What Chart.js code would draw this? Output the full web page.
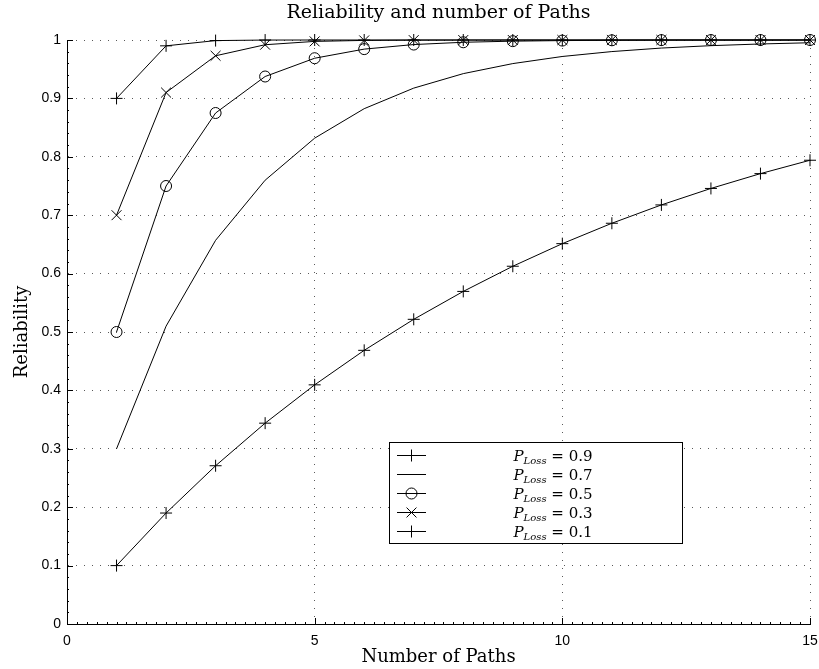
<!DOCTYPE html>
<html>
<head>
<meta charset="utf-8">
<script src="https://cdn.jsdelivr.net/npm/chart.js@4"></script>
<style>
  body { margin: 0; background: #fff; }
  canvas { display: block; }
</style>
</head>
<body>
<canvas id="grafico" width="819" height="669"></canvas>
<script>
// number of paths on the x axis
const paths = [1, 2, 3, 4, 5, 6, 7, 8, 9, 10, 11, 12, 13, 14, 15];
const lossValues = ['0.9', '0.7', '0.5', '0.3', '0.1'];

// reliability per loss probability
const rel09 = [0.1, 0.19, 0.271, 0.3439, 0.4095, 0.4686, 0.5217, 0.5695, 0.6126, 0.6513, 0.6862, 0.7176, 0.7458, 0.7712, 0.7941];
const rel07 = [0.3, 0.51, 0.657, 0.7599, 0.8319, 0.8824, 0.9176, 0.9424, 0.9596, 0.9718, 0.9802, 0.9862, 0.9903, 0.9932, 0.9953];
const rel05 = [0.5, 0.75, 0.875, 0.9375, 0.9688, 0.9844, 0.9922, 0.9961, 0.998, 0.999, 0.9995, 0.9998, 0.9999, 0.9999, 1.0];
const rel03 = [0.7, 0.91, 0.973, 0.9919, 0.9976, 0.9993, 0.9998, 0.9999, 1.0, 1.0, 1.0, 1.0, 1.0, 1.0, 1.0];
const rel01 = [0.9, 0.99, 0.999, 0.9999, 1.0, 1.0, 1.0, 1.0, 1.0, 1.0, 1.0, 1.0, 1.0, 1.0, 1.0];

const xTicks = [0, 5, 10, 15];
const yTicks = [0, 0.1, 0.2, 0.3, 0.4, 0.5, 0.6, 0.7, 0.8, 0.9, 1];
const yTickLabels = ['0', '0.1', '0.2', '0.3', '0.4', '0.5', '0.6', '0.7', '0.8', '0.9', '1'];

const series = [rel09, rel07, rel05, rel03, rel01];
const markers = ['cross', null, 'circle', 'crossRot', 'cross'];
const markerSize = { cross: 6, circle: 5.5, crossRot: 7 };

const serif = "'DejaVu Serif', serif";
const sans = "'Liberation Sans', Arial, sans-serif";

// matlab style ticks pointing inside the axes
const axisTicks = {
  id: 'axisTicks',
  beforeDatasetsDraw(chart) {
    const { ctx, chartArea: a, scales: { x, y } } = chart;
    ctx.save();
    ctx.strokeStyle = '#000';
    ctx.lineWidth = 1;
    ctx.beginPath();
    for (let i = 0; i <= 75; i++) {
      const px = Math.round(x.getPixelForValue(i * 0.2)) + 0.5;
      const len = i % 25 === 0 ? 6 : 2;
      ctx.moveTo(px, a.bottom);
      ctx.lineTo(px, a.bottom - len);
    }
    for (let i = 0; i <= 50; i++) {
      const py = Math.round(y.getPixelForValue(i * 0.02)) + 0.5;
      const len = i % 5 === 0 ? 6 : 2;
      ctx.moveTo(a.left, py);
      ctx.lineTo(a.left + len, py);
    }
    ctx.stroke();
    ctx.restore();
  }
};

// legend box with subscript labels
const lossLegend = {
  id: 'lossLegend',
  afterDraw(chart) {
    const ctx = chart.ctx;
    const box = { left: 389.5, top: 442.5, right: 682.5, bottom: 543.5 };
    const rowH = 19;
    ctx.save();
    ctx.fillStyle = '#fff';
    ctx.fillRect(box.left, box.top, box.right - box.left, box.bottom - box.top);
    ctx.strokeStyle = '#000';
    ctx.lineWidth = 1;
    ctx.strokeRect(box.left, box.top, box.right - box.left, box.bottom - box.top);
    chart.data.datasets.forEach((ds, i) => {
      const cy = Math.round(box.top + 12 + i * rowH) + 0.5;
      ctx.beginPath();
      ctx.moveTo(397, cy);
      ctx.lineTo(426, cy);
      ctx.stroke();
      if (markers[i]) {
        ctx.fillStyle = 'rgba(0,0,0,0)';
        Chart.helpers.drawPoint(ctx, { pointStyle: markers[i], radius: markerSize[markers[i]], borderWidth: 1 }, 411.5, cy);
      }
      // text: P_Loss = value
      ctx.fillStyle = '#000';
      ctx.textBaseline = 'alphabetic';
      const big = 'italic 15px ' + serif;
      const small = 'italic 10px ' + serif;
      const rest = ' = ' + lossValues[i];
      ctx.font = big; const w1 = ctx.measureText('P').width;
      ctx.font = small; const w2 = ctx.measureText('Loss').width;
      ctx.font = '15px ' + serif; const w3 = ctx.measureText(rest).width;
      let tx = 553 - (w1 + w2 + w3) / 2;
      const base = cy + 5;
      ctx.font = big; ctx.fillText('P', tx, base); tx += w1;
      ctx.font = small; ctx.fillText('Loss', tx, base + 3); tx += w2;
      ctx.font = '15px ' + serif; ctx.fillText(rest, tx, base);
    });
    ctx.restore();
  }
};

const grid = {
  color: 'rgba(0,0,0,0.65)',
  lineWidth: 1,
  drawTicks: false
};
const border = { display: true, color: '#000', width: 1, dash: [1, 7] };

new Chart(document.getElementById('grafico'), {
  type: 'line',
  data: {
    datasets: series.map((vals, i) => ({
      label: 'P_Loss = ' + lossValues[i],
      data: vals.map((v, j) => ({ x: paths[j], y: v })),
      borderColor: '#000',
      borderWidth: 1,
      pointStyle: markers[i] || 'circle',
      pointRadius: markers[i] ? markerSize[markers[i]] : 0,
      pointBorderColor: '#000',
      pointBackgroundColor: 'rgba(0,0,0,0)',
      pointBorderWidth: 1,
      tension: 0,
      clip: false
    }))
  },
  options: {
    responsive: false,
    animation: false,
    events: [],
    layout: { padding: { right: 9 } },
    plugins: {
      legend: { display: false },
      tooltip: { enabled: false },
      title: {
        display: true,
        text: 'Reliability and number of Paths',
        color: '#000',
        fullSize: false,
        font: { family: serif, size: 19, weight: 'normal' },
        padding: { top: 2, bottom: 15.2 }
      }
    },
    scales: {
      x: {
        type: 'linear',
        min: 0,
        max: 15,
        afterBuildTicks: s => { s.ticks = xTicks.map(v => ({ value: v })); },
        afterFit: s => { s.height = 45; s.paddingRight = 0; s.paddingLeft = 0; },
        grid: grid,
        border: border,
        ticks: { color: '#000', padding: 9, font: { family: sans, size: 14 } },
        title: {
          display: true,
          text: 'Number of Paths',
          color: '#000',
          font: { family: serif, size: 18 },
          padding: { top: 0, bottom: 1 }
        }
      },
      y: {
        min: 0,
        max: 1,
        afterBuildTicks: s => { s.ticks = yTicks.map(v => ({ value: v })); },
        afterFit: s => { s.width = 67; },
        grid: grid,
        border: border,
        ticks: {
          color: '#000',
          padding: 6,
          font: { family: sans, size: 14 },
          callback: (v, idx) => yTickLabels[idx]
        },
        title: {
          display: true,
          text: 'Reliability',
          color: '#000',
          font: { family: serif, size: 18 },
          padding: { top: 12, bottom: 0 }
        }
      }
    }
  },
  plugins: [axisTicks, lossLegend]
});
</script>
</body>
</html>
